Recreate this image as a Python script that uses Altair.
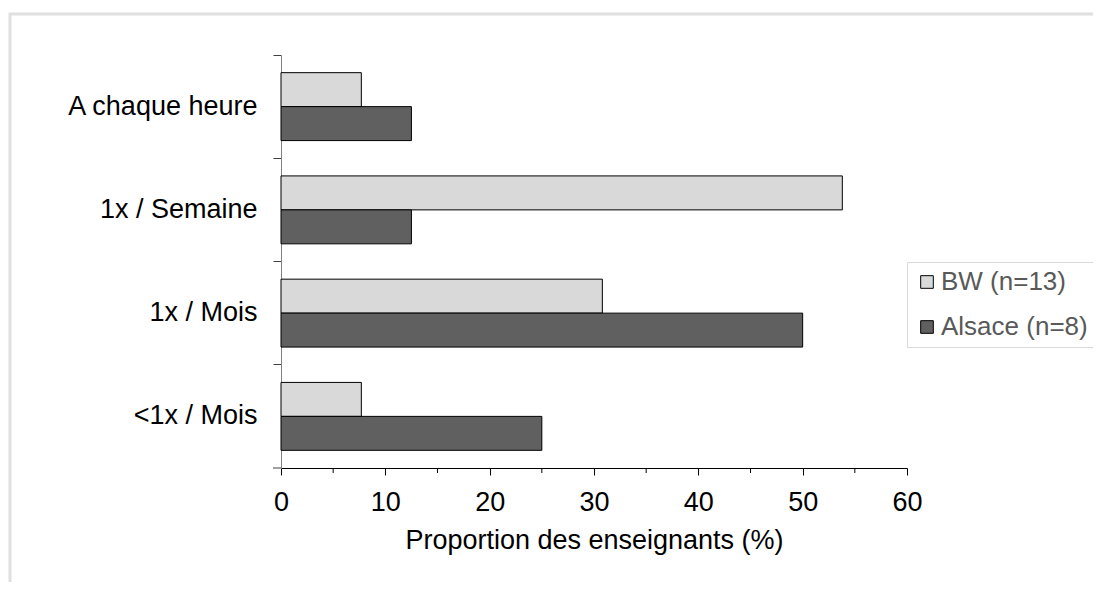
import altair as alt
import pandas as pd

categories = ["A chaque heure", "1x / Semaine", "1x / Mois", "<1x / Mois"]
series = ["BW (n=13)", "Alsace (n=8)"]
bw_values = [7.7, 53.8, 30.8, 7.7]
alsace_values = [12.5, 12.5, 50.0, 25.0]
colors = ["#d9d9d9", "#606060"]
x_ticks = [0, 10, 20, 30, 40, 50, 60]
x_minor_ticks = [5, 15, 25, 35, 45, 55]

rows = []
for c, b, a in zip(categories, bw_values, alsace_values):
    rows.append({"cat": c, "series": series[0], "value": b})
    rows.append({"cat": c, "series": series[1], "value": a})
df = pd.DataFrame(rows)
minor_df = pd.DataFrame({"v": x_minor_ticks})
one = alt.Data(values=[{"k": 1}])

W, H = 626, 413
FONT = "Liberation Sans"
FS = 27

bars = alt.Chart(df).mark_bar(stroke="black", strokeWidth=1).encode(
    x=alt.X("value:Q",
            scale=alt.Scale(domain=[0, 60], nice=False),
            axis=alt.Axis(values=x_ticks, title="Proportion des enseignants (%)",
                          grid=False, domainColor="black", tickColor="black",
                          tickSize=7, labelPadding=14, titlePadding=12,
                          labelOverlap=False, labelFlush=False,
                          labelFont=FONT, titleFont=FONT, labelFontSize=FS,
                          titleFontSize=FS, titleFontWeight="normal",
                          labelColor="black", titleColor="black")),
    y=alt.Y("cat:N", sort=categories,
            scale=alt.Scale(paddingInner=0, paddingOuter=0),
            axis=alt.Axis(title=None, bandPosition=0, domainColor="#808080",
                          tickColor="#404040", tickSize=8, labelPadding=16,
                          grid=False, labelFont=FONT, labelFontSize=FS,
                          labelColor="black", labelLimit=400)),
    yOffset=alt.YOffset("series:N", sort=series,
                        scale=alt.Scale(paddingInner=0, paddingOuter=0.52)),
    color=alt.Color("series:N", sort=series,
                    scale=alt.Scale(domain=series, range=colors),
                    legend=alt.Legend(title=None, orient="none", legendX=626, legendY=207,
                                      strokeColor="#d9d9d9", fillColor="white",
                                      padding=7, symbolType="square", symbolSize=160,
                                      symbolStrokeColor="black", symbolStrokeWidth=1,
                                      labelFontSize=26, labelFont=FONT,
                                      labelColor="#595959", rowPadding=19,
                                      labelOffset=1, labelLimit=300)),
)

minor = alt.Chart(minor_df).mark_rule(color="black", strokeWidth=1).encode(
    x=alt.X("v:Q"),
    y=alt.value(H),
    y2=alt.value(H + 5),
)

bottom_tick = alt.Chart(one).mark_rule(color="#404040", strokeWidth=1).encode(
    x=alt.value(-8), x2=alt.value(0), y=alt.value(H),
)

frame = alt.Chart(one).mark_rect(filled=False, stroke="#e0e0e0", strokeWidth=3).encode(
    x=alt.value(-271), x2=alt.value(W + 260),
    y=alt.value(-41), y2=alt.value(H + 200),
)

chart = alt.layer(frame, bars, minor, bottom_tick).properties(
    width=W, height=H,
    background="white",
    autosize=alt.AutoSizeParams(type="none"),
    padding={"left": 273, "top": 47, "right": 186, "bottom": 114},
).configure_view(stroke=None)

chart.save("out.html", embed_options={"renderer": "svg", "actions": False})
